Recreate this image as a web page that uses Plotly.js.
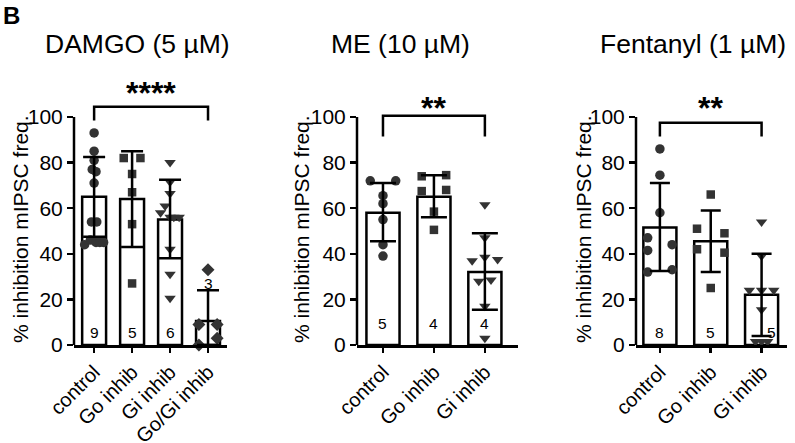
<!DOCTYPE html>
<html>
<head>
<meta charset="utf-8">
<script src="https://cdn.plot.ly/plotly-3.0.1.min.js"></script>
<style>html,body{margin:0;padding:0;background:#fff;}#chart{width:795px;height:443px;}</style>
</head>
<body>
<div id="chart"></div>
<script>
// ---------- DATA ----------
const titles = ['DAMGO (5 µM)', 'ME (10 µM)', 'Fentanyl (1 µM)'];
const yTitle = '% inhibition mIPSC freq.';

const cats1 = ['control', 'Go inhib', 'Gi inhib', 'Go/Gi inhib'];
const means1 = [65, 64, 55, 10.5];
const hi1 = [82.5, 85, 72.5, 24];
const lo1 = [47.5, 43, 38, 0];
const n1 = ['9', '5', '6', '3'];
const ctrl1 = [93, 85, 81, 77, 76, 71, 54, 54, 44, 46, 45, 45, 45];
const ctrl1Off = [0, 0, 0, -0.05, 0.05, 0, -0.07, 0.07, -0.25, -0.1, 0.05, 0.15, 0.25];
const go1 = [82, 82, 75, 67, 53, 27];
const go1Off = [-0.22, 0.22, 0, 0, 0, 0];
const gi1 = [80, 71.5, 66.5, 61, 58, 56, 56, 56, 42, 31, 20.5];
const gi1Off = [0, 0, 0, -0.13, -0.25, 0, 0.1, 0.24, 0, 0, 0];
const gogi1 = [33, 9, 9, 3, 0];
const gogi1Off = [0, -0.24, 0.24, 0.24, -0.24];

const cats2 = ['control', 'Go inhib', 'Gi inhib'];
const means2 = [58, 65, 32];
const hi2 = [71, 74.5, 49];
const lo2 = [45.5, 56, 15.5];
const n2 = ['5', '4', '4'];
const ctrl2 = [72, 72, 65.5, 62, 55, 44, 39];
const ctrl2Off = [-0.25, 0.25, 0, 0, 0, 0, 0];
const go2 = [74, 74.5, 67.5, 68, 58.5, 50.5];
const go2Off = [-0.24, 0.24, -0.24, 0.24, 0, 0];
const gi2 = [61.5, 47, 38.5, 37, 37.5, 28, 28.5, 17, 3];
const gi2Off = [0, 0, 0, -0.25, 0.25, -0.12, 0.12, 0, 0];

const cats3 = ['control', 'Go inhib', 'Gi inhib'];
const means3 = [51.5, 45.5, 22];
const hi3 = [71, 59, 40];
const lo3 = [32.5, 32, 4];
const n3 = ['8', '5', '5'];
const ctrl3 = [86, 74.5, 58, 47, 41.5, 44, 32, 33];
const ctrl3Off = [0, 0, 0, -0.24, -0.24, 0.24, -0.24, 0.24];
const go3 = [66, 51, 49, 42, 40.5, 25];
const go3Off = [0, -0.27, 0.27, -0.27, 0.27, 0];
const gi3 = [54, 39, 24, 24, 24, 15.5, 1.5, 1.5, 1.5];
const gi3Off = [0, 0, -0.24, 0, 0.24, 0, -0.12, 0, 0.12];

const stars = ['****', '**', '**'];
const bracketTop = [104.5, 100.5, 97.5];
const bracketEnd = [98.5, 91.5, 91.5];
const starY = [110.5, 104, 104];
const nLabelY1 = [5.5, 5.5, 5.5, 27];
const nLabelY2 = [9.5, 9.5, 9.5];
const nLabelY3 = [5.5, 5.5, 5.5];

// ---------- STYLE / LAYOUT ----------
const FONT = 'Liberation Sans, Arial, sans-serif';
const symbols = ['circle', 'square', 'triangle-down', 'diamond'];
const symSize = {circle: 9.5, square: 8.5, 'triangle-down': 10, diamond: 10};
const ptColor = '#333333';

const panels = [
  {cats: cats1, means: means1, hi: hi1, lo: lo1, n: n1, nY: nLabelY1, nOff: [0,0,0,0],
   groups: [ctrl1, go1, gi1, gogi1], offs: [ctrl1Off, go1Off, gi1Off, gogi1Off],
   dom: [74/795, 227/795], range: [-0.53, 3.5], barW: 0.63, cap: 11},
  {cats: cats2, means: means2, hi: hi2, lo: lo2, n: n2, nY: nLabelY2, nOff: [0,0,0],
   groups: [ctrl2, go2, gi2], offs: [ctrl2Off, go2Off, gi2Off],
   dom: [357/795, 518/795], range: [-0.51, 2.65], barW: 0.65, cap: 13},
  {cats: cats3, means: means3, hi: hi3, lo: lo3, n: n3, nY: nLabelY3, nOff: [0,0,0.2],
   groups: [ctrl3, go3, gi3], offs: [ctrl3Off, go3Off, gi3Off],
   dom: [636/795, 787/795], range: [-0.47, 2.5], barW: 0.65, cap: 10}
];
const titleX = [137, 400, 693];
const yTitleX = [20, 301, 583];

const yDom = [(443 - 345) / 443, (443 - 345 + 118 * 2.28) / 443];

const traces = [];
const annotations = [];
const shapes = [];
const layout = {
  width: 795, height: 443,
  margin: {l: 0, r: 0, t: 0, b: 0},
  paper_bgcolor: '#fff', plot_bgcolor: 'rgba(0,0,0,0)',
  showlegend: false,
  font: {family: FONT, color: '#000'},
};

panels.forEach((p, i) => {
  const s = i === 0 ? '' : String(i + 1);
  const xa = 'x' + s, ya = 'y' + s;
  const idx = p.cats.map((c, k) => k);

  traces.push({
    type: 'bar', x: idx, y: p.means, xaxis: xa, yaxis: ya, width: p.barW,
    marker: {color: '#ffffff', line: {color: '#000', width: 2.5}}, hoverinfo: 'skip'
  });

  p.groups.forEach((g, k) => {
    const sym = symbols[k];
    traces.push({
      type: 'scatter', mode: 'markers', xaxis: xa, yaxis: ya,
      x: g.map((v, j) => k + p.offs[k][j]), y: g, cliponaxis: false,
      marker: {symbol: sym, size: symSize[sym], color: ptColor, line: {width: 0}}
    });
  });

  traces.push({
    type: 'scatter', mode: 'markers', xaxis: xa, yaxis: ya, x: idx, y: p.means,
    marker: {size: 1, opacity: 0},
    error_y: {type: 'data', symmetric: false,
      array: p.hi.map((h, k) => h - p.means[k]),
      arrayminus: p.lo.map((l, k) => p.means[k] - l),
      color: '#000', thickness: 2.5, width: p.cap}
  });

  const last = p.cats.length - 1;
  traces.push({
    type: 'scatter', mode: 'lines', xaxis: xa, yaxis: ya,
    x: [0, 0, last, last], y: [bracketEnd[i], bracketTop[i], bracketTop[i], bracketEnd[i]],
    line: {color: '#000', width: 2.5}
  });

  annotations.push({xref: xa, yref: ya, x: last / 2, y: starY[i], text: '<b>' + stars[i] + '</b>',
    showarrow: false, font: {size: 32, family: FONT, color: '#000'}, yanchor: 'middle'});

  p.n.forEach((t, k) => annotations.push({xref: xa, yref: ya, x: k + p.nOff[k], y: p.nY[k], text: t,
    showarrow: false, font: {size: 15.5, family: FONT, color: '#000'}, yanchor: 'middle'}));

  annotations.push({xref: 'paper', yref: 'paper', x: titleX[i] / 795, y: 1 - 44 / 443, text: titles[i],
    showarrow: false, font: {size: 26.5, family: FONT, color: '#000'}, xanchor: 'center', yanchor: 'middle'});

  annotations.push({xref: 'paper', yref: 'paper', x: yTitleX[i] / 795, y: 1 - 229 / 443, text: yTitle,
    textangle: -90, showarrow: false, font: {size: 21, family: FONT, color: '#000'},
    xanchor: 'center', yanchor: 'middle'});

  shapes.push({type: 'line', xref: xa + ' domain', yref: ya, x0: 0, x1: 0, y0: 0, y1: 100,
    line: {color: '#000', width: 2.5}});

  layout['xaxis' + s] = {
    domain: p.dom, anchor: ya, range: p.range, tickvals: idx, ticktext: p.cats,
    tickangle: -45, ticks: 'outside', ticklen: 5, tickwidth: 2.5, tickcolor: '#000',
    showline: true, linecolor: '#000', linewidth: 2.5, showgrid: false, zeroline: false,
    tickfont: {size: 20, family: FONT, color: '#000'}, fixedrange: true
  };
  layout['yaxis' + s] = {
    domain: yDom, anchor: xa, range: [0, 118], tickvals: [0, 20, 40, 60, 80, 100],
    ticks: 'outside', ticklen: 6, tickwidth: 2.5, tickcolor: '#000',
    showline: false, showgrid: false, zeroline: false,
    tickfont: {size: 21, family: FONT, color: '#000'}, fixedrange: true
  };
});

annotations.push({xref: 'paper', yref: 'paper', x: 0, y: 1, text: '<b>B</b>', showarrow: false,
  xanchor: 'left', yanchor: 'top', xshift: 1, yshift: 0, font: {size: 24, family: FONT, color: '#000'}});

layout.annotations = annotations;
layout.shapes = shapes;

Plotly.newPlot('chart', traces, layout, {displayModeBar: false, staticPlot: true});
</script>
</body>
</html>
